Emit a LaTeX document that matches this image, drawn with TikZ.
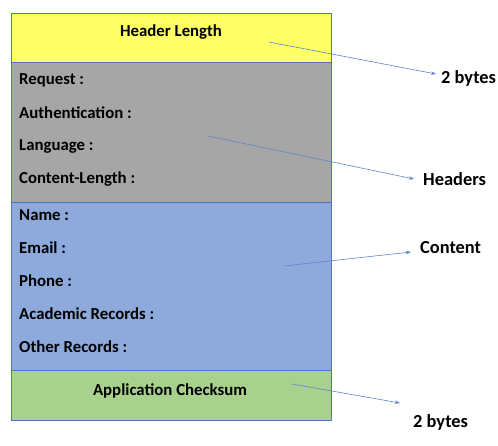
\documentclass[tikz,border=0pt]{standalone}
\usepackage{fontspec}
\setmainfont{Carlito}
\usetikzlibrary{arrows.meta}
\definecolor{edgeblue}{HTML}{4F75C0}
\definecolor{arrowblue}{HTML}{5B84D0}
\definecolor{hlyellow}{HTML}{FFFF66}
\definecolor{hdrgray}{HTML}{A6A6A6}
\definecolor{cntblue}{HTML}{8EA9DB}
\definecolor{ckgreen}{HTML}{A9D18E}
\begin{document}
\begin{tikzpicture}[x=1pt,y=-1pt,
  field/.style={draw=edgeblue, line width=0.8pt, anchor=north west, minimum width=320pt, inner sep=0pt},
  lbl/.style={font=\bfseries\fontsize{16.8}{19}\selectfont, anchor=west, inner sep=0pt},
  side/.style={font=\bfseries\fontsize{18.4}{21}\selectfont, anchor=west, inner sep=0pt},
  conn/.style={draw=arrowblue, line width=0.6pt, -{Stealth[length=5pt,width=3.5pt]}}]
\useasboundingbox (0,0) rectangle (498,446);
\node[field, fill=hlyellow, minimum height=49pt] (hl) at (11,13) {};
\node[field, fill=hdrgray, minimum height=140pt] (hd) at (11,62) {};
\node[field, fill=cntblue, minimum height=168pt] (ct) at (11,202) {};
\node[field, fill=ckgreen, minimum height=50pt] (ck) at (11,370) {};
\node[lbl, anchor=center] (hlt) at (171,32) {Header Length};
\node[lbl] (r1) at (19,80) {Request :};
\node[lbl] (r2) at (19,113) {Authentication :};
\node[lbl] (r3) at (19,146) {Language :};
\node[lbl] (r4) at (19,179) {Content-Length :};
\node[lbl] (c1) at (19,215) {Name :};
\node[lbl] (c2) at (19,248) {Email :};
\node[lbl] (c3) at (19,281) {Phone :};
\node[lbl] (c4) at (19,314) {Academic Records :};
\node[lbl] (c5) at (19,347) {Other Records :};
\node[lbl, anchor=center] (ckt) at (170,391) {Application Checksum};
\node[side] (b1) at (441,78) {2 bytes};
\node[side] (hs) at (423,179) {Headers};
\node[side] (cs) at (420,248) {Content};
\node[side] (b2) at (413,422) {2 bytes};
\coordinate (s1) at (269,42);
\coordinate (s2) at (208,136);
\coordinate (s3) at (284,266);
\coordinate (s4) at (292,384);
\coordinate (e1) at (436,74);
\coordinate (e2) at (414,179);
\coordinate (e3) at (411,252);
\coordinate (e4) at (400,403);
\draw[conn] (s1) -- (e1);
\draw[conn] (s2) -- (e2);
\draw[conn] (s3) -- (e3);
\draw[conn] (s4) -- (e4);
\end{tikzpicture}
\end{document}
